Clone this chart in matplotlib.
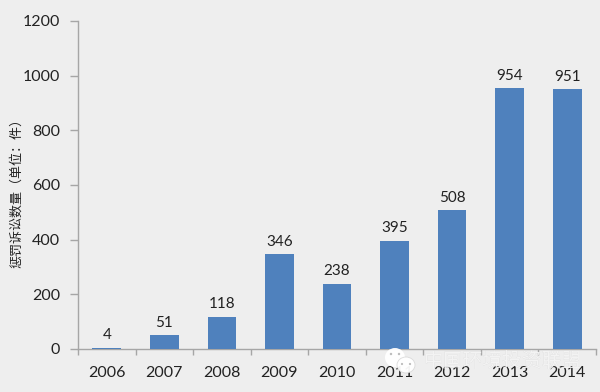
import matplotlib
matplotlib.use("Agg")
import matplotlib.pyplot as plt
from matplotlib.patches import Ellipse

plt.rcParams['font.family'] = ['Noto Sans CJK SC', 'DejaVu Sans']

# values
years = ['2006', '2007', '2008', '2009', '2010', '2011', '2012', '2013', '2014']
counts = [4, 51, 118, 346, 238, 395, 508, 954, 951]
y_ticks = [0, 200, 400, 600, 800, 1000, 1200]
y_label = '惩罚诉讼数量（单位：件）'
watermark = '中国环境投资联盟'

W, H = 600, 392
bg = '#EEEEEE'
num_font = 'Lato'

fig = plt.figure(figsize=(W / 100, H / 100), dpi=100, facecolor=bg)
ax = fig.add_axes([78 / W, 1 - 349 / H, 518 / W, 328 / H], facecolor=bg)

x = list(range(len(years)))
ax.bar(x, counts, width=0.5, color='#4F81BD', zorder=3)
for xi, c in zip(x, counts):
    ax.annotate(str(c), (xi, c), xytext=(0, 4), textcoords='offset points',
                ha='center', va='bottom', fontsize=11, color='#222222',
                family=num_font)

ax.set_xlim(-0.5, len(years) - 0.5)
ax.set_ylim(0, 1200)
ax.set_yticks(y_ticks)
ax.set_yticklabels([str(t) for t in y_ticks], fontsize=11.5, color='#222222',
                   family=num_font)

# x ticks sit between the categories, labels under the bars
ax.set_xticks([i - 0.5 for i in range(len(years) + 1)])
ax.set_xticklabels([])
ax.set_xticks(x, minor=True)
ax.set_xticklabels(years, minor=True, fontsize=11.5, color='#222222',
                   family=num_font)
ax.tick_params(axis='x', which='minor', length=0, pad=12)
ax.tick_params(axis='x', which='major', length=4, width=1, color='#A6A6A6')
ax.tick_params(axis='y', length=6, width=1, color='#A6A6A6', pad=7)

for s in ['top', 'right']:
    ax.spines[s].set_visible(False)
for s in ['left', 'bottom']:
    ax.spines[s].set_color('#A6A6A6')
    ax.spines[s].set_linewidth(1)

fig.text(17 / W, 1 - 190 / H, y_label, rotation=90, ha='center', va='center',
         fontsize=9.4, color='#222222')

# watermark over the bottom right corner
ov = fig.add_axes([0, 0, 1, 1], facecolor='none')
ov.set_xlim(0, W)
ov.set_ylim(H, 0)
ov.axis('off')
ov.add_patch(Ellipse((395, 357.5), 20, 19, fc='white', ec='none', alpha=0.95))
ov.add_patch(Ellipse((406, 365), 18, 16, fc='white', ec='#D8D8D8', lw=0.6, alpha=0.95))
for ex, ey in [(391, 354), (399, 354)]:
    ov.add_patch(Ellipse((ex, ey), 2.4, 2.4, fc='#BBBBBB', ec='none'))
for ex, ey in [(402, 364), (410, 364)]:
    ov.add_patch(Ellipse((ex, ey), 2.2, 2.2, fc='#BBBBBB', ec='none'))
ov.text(502.5, 362.5, watermark, ha='center', va='center', fontsize=14.2,
        color='#A8A8A8', alpha=0.55, zorder=5)
ov.text(502, 362, watermark, ha='center', va='center', fontsize=14.2,
        color='white', alpha=0.8, zorder=6)

fig.savefig('out.png', dpi=100, facecolor=bg)
